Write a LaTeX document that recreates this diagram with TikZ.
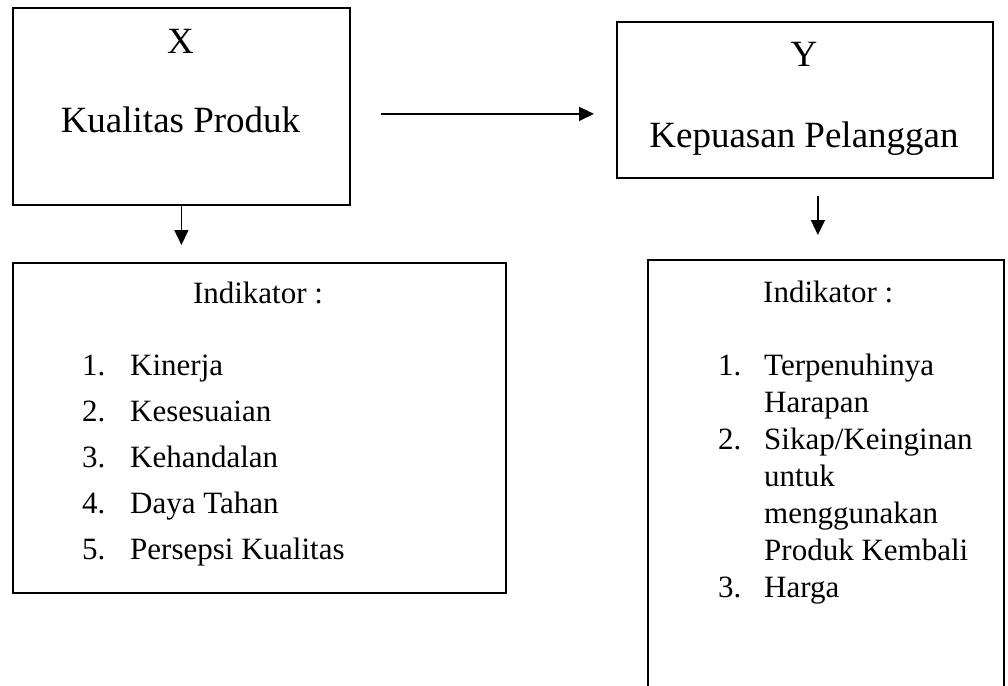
\documentclass[tikz,border=0pt]{standalone}
\usepackage{fontspec}
\setmainfont{Liberation Serif}
\usetikzlibrary{arrows.meta}

\begin{document}
\begin{tikzpicture}[x=1pt,y=-1pt,
  kotak/.style={rectangle, draw=black, line width=1.8pt, anchor=north west, inner sep=0pt},
  panah/.style={line width=1.5pt, -{Triangle[length=15pt,width=14pt]}},
  judul/.style={font=\fontsize{37}{79}\selectfont, align=center, anchor=base, inner sep=0pt},
  daftar/.style={align=left, anchor=base west, inner sep=0pt}]
\useasboundingbox (0,0) rectangle (1008,685);
\clip (0,0) rectangle (1008,685);

% variabel X dan Y
\node[kotak, minimum width=337pt, minimum height=197pt] (varX) at (12,7) {};
\node[kotak, minimum width=376pt, minimum height=156pt] (varY) at (616,21) {};
\node[judul] (judulX) at (180.5,132) {X\\Kualitas Produk};
\node[judul, font=\fontsize{37}{81}\selectfont] (judulY) at (804,147) {Y\\Kepuasan Pelanggan};

% indikator
\node[kotak, minimum width=493pt, minimum height=330pt] (indX) at (12,262) {};
\node[kotak, minimum width=356pt, minimum height=450pt] (indY) at (647,259) {};
\node[font=\fontsize{31}{36}\selectfont, anchor=base, inner sep=0pt] (labelX) at (258,303) {Indikator :};
\node[daftar, font=\fontsize{31}{46}\selectfont] (listX) at (82,559) {
  \makebox[48pt][l]{1.}Kinerja\\
  \makebox[48pt][l]{2.}Kesesuaian\\
  \makebox[48pt][l]{3.}Kehandalan\\
  \makebox[48pt][l]{4.}Daya Tahan\\
  \makebox[48pt][l]{5.}Persepsi Kualitas};
\node[font=\fontsize{31}{36}\selectfont, anchor=base west, inner sep=0pt] (labelY) at (763,302) {Indikator :};
\node[daftar, font=\fontsize{31}{37}\selectfont] (listY) at (718,597) {
  \makebox[46pt][l]{1.}Terpenuhinya\\
  \hspace*{46pt}Harapan\\
  \makebox[46pt][l]{2.}Sikap/Keinginan\\
  \hspace*{46pt}untuk\\
  \hspace*{46pt}menggunakan\\
  \hspace*{46pt}Produk Kembali\\
  \makebox[46pt][l]{3.}Harga};

% panah
\coordinate (pangkal) at ([yshift=-7.5pt]varX.east);
\draw[panah, shorten <=30pt, shorten >=22pt] (pangkal) -- (pangkal -| varY.west);
\draw[panah, shorten >=17pt] (varX.south) -- (varX.south |- indX.north);
\coordinate (ujungY) at ([xshift=13pt]varY.south);
\draw[panah, shorten <=17pt, shorten >=24pt] (ujungY) -- (ujungY |- indY.north);
\end{tikzpicture}
\end{document}
